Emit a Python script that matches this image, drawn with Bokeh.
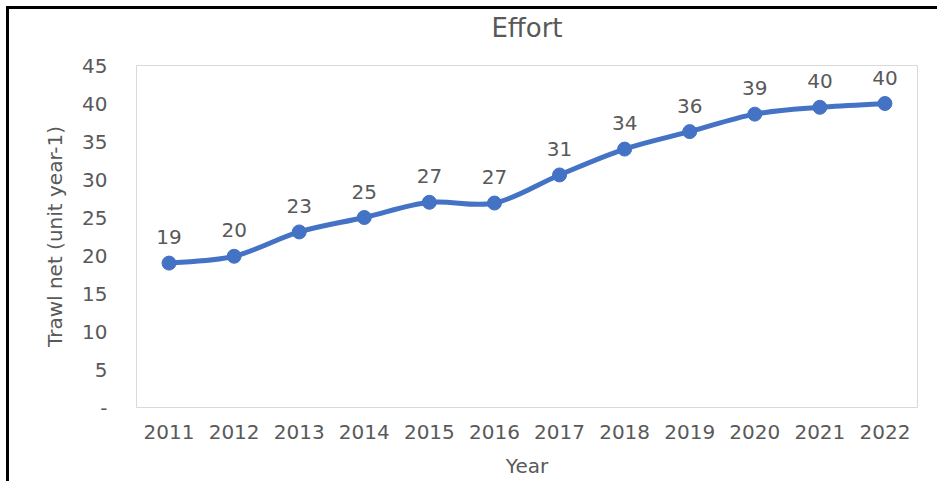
from bokeh.plotting import figure
from bokeh.models import Range1d, FixedTicker, ColumnDataSource, Title
from bokeh.embed import file_html
from bokeh.resources import INLINE
from bokeh.core.properties import value

years = [2011, 2012, 2013, 2014, 2015, 2016, 2017, 2018, 2019, 2020, 2021, 2022]
effort = [19.0, 19.9, 23.1, 25.0, 27.0, 26.9, 30.6, 34.0, 36.3, 38.6, 39.5, 40.0]
point_labels = ["19", "20", "23", "25", "27", "27", "31", "34", "36", "39", "40", "40"]
y_ticks = [0, 5, 10, 15, 20, 25, 30, 35, 40, 45]
title_text = "Effort"

FONT = "DejaVu Sans"
GRAY = "#595959"
BLUE = "#4472C4"

p = figure(width=937, height=481, output_backend="svg", toolbar_location=None,
           x_range=Range1d(2010.5, 2022.5), y_range=Range1d(0, 45),
           min_border_left=136, min_border_right=20, min_border_top=64, min_border_bottom=74)
# black frame lines of the original picture (left and top edges)
p.styles = {"background": "linear-gradient(#000, #000) 6px 6px / 3px calc(100% - 6px) no-repeat, "
                          "linear-gradient(#000, #000) 6px 6px / calc(100% - 6px) 3px no-repeat, white"}

# small spacer next to the frame, then the title above it
p.add_layout(Title(text=" ", text_font_size="1px", standoff=10), "above")
p.add_layout(Title(text=title_text, align="center", offset=-29, standoff=20,
                   text_font=FONT, text_font_size="26px", text_font_style="normal",
                   text_color=GRAY), "above")

p.background_fill_color = "white"
p.border_fill_color = None
p.outline_line_color = "#D9D9D9"
p.outline_line_width = 1
p.xgrid.visible = False
p.ygrid.visible = False

for ax in (p.xaxis[0], p.yaxis[0]):
    ax.axis_line_color = None
    ax.major_tick_line_color = None
    ax.minor_tick_line_color = None
    ax.major_label_text_font = FONT
    ax.major_label_text_font_size = "20px"
    ax.major_label_text_color = GRAY
    ax.axis_label_text_font = FONT
    ax.axis_label_text_font_size = "20px"
    ax.axis_label_text_font_style = "normal"
    ax.axis_label_text_color = GRAY

p.xaxis.ticker = FixedTicker(ticks=years)
p.xaxis.major_label_standoff = 11
p.xaxis.axis_label = "Year"
p.xaxis.axis_label_standoff = 12

p.yaxis.ticker = FixedTicker(ticks=y_ticks)
p.yaxis.major_label_overrides = {0: "-"}
p.yaxis.major_label_standoff = 23
p.yaxis.axis_label = "Trawl net (unit year-1)"
p.yaxis.axis_label_standoff = 12

# smooth (Excel-like) line via Bezier segments built from the data
n = len(years)
x0, y0, x1, y1, cx0, cy0, cx1, cy1 = ([] for _ in range(8))
for i in range(n - 1):
    im1 = max(i - 1, 0)
    ip2 = min(i + 2, n - 1)
    x0.append(years[i]); y0.append(effort[i])
    x1.append(years[i + 1]); y1.append(effort[i + 1])
    cx0.append(years[i] + (years[i + 1] - years[im1]) / 6)
    cy0.append(effort[i] + (effort[i + 1] - effort[im1]) / 6)
    cx1.append(years[i + 1] - (years[ip2] - years[i]) / 6)
    cy1.append(effort[i + 1] - (effort[ip2] - effort[i]) / 6)

bsrc = ColumnDataSource(dict(x0=x0, y0=y0, x1=x1, y1=y1, cx0=cx0, cy0=cy0, cx1=cx1, cy1=cy1))
p.bezier(x0="x0", y0="y0", x1="x1", y1="y1", cx0="cx0", cy0="cy0", cx1="cx1", cy1="cy1",
         source=bsrc, line_color=BLUE, line_width=5, line_cap="round")

src = ColumnDataSource(dict(x=years, y=effort, lab=point_labels))
p.scatter("x", "y", source=src, size=14, fill_color=BLUE, line_color=BLUE)
p.text("x", "y", text="lab", source=src, text_align="center", text_baseline="alphabetic",
       y_offset=-26, text_font=value(FONT), text_font_size="20px", text_color=GRAY)

open("out.html", "w").write(file_html(p, INLINE))
